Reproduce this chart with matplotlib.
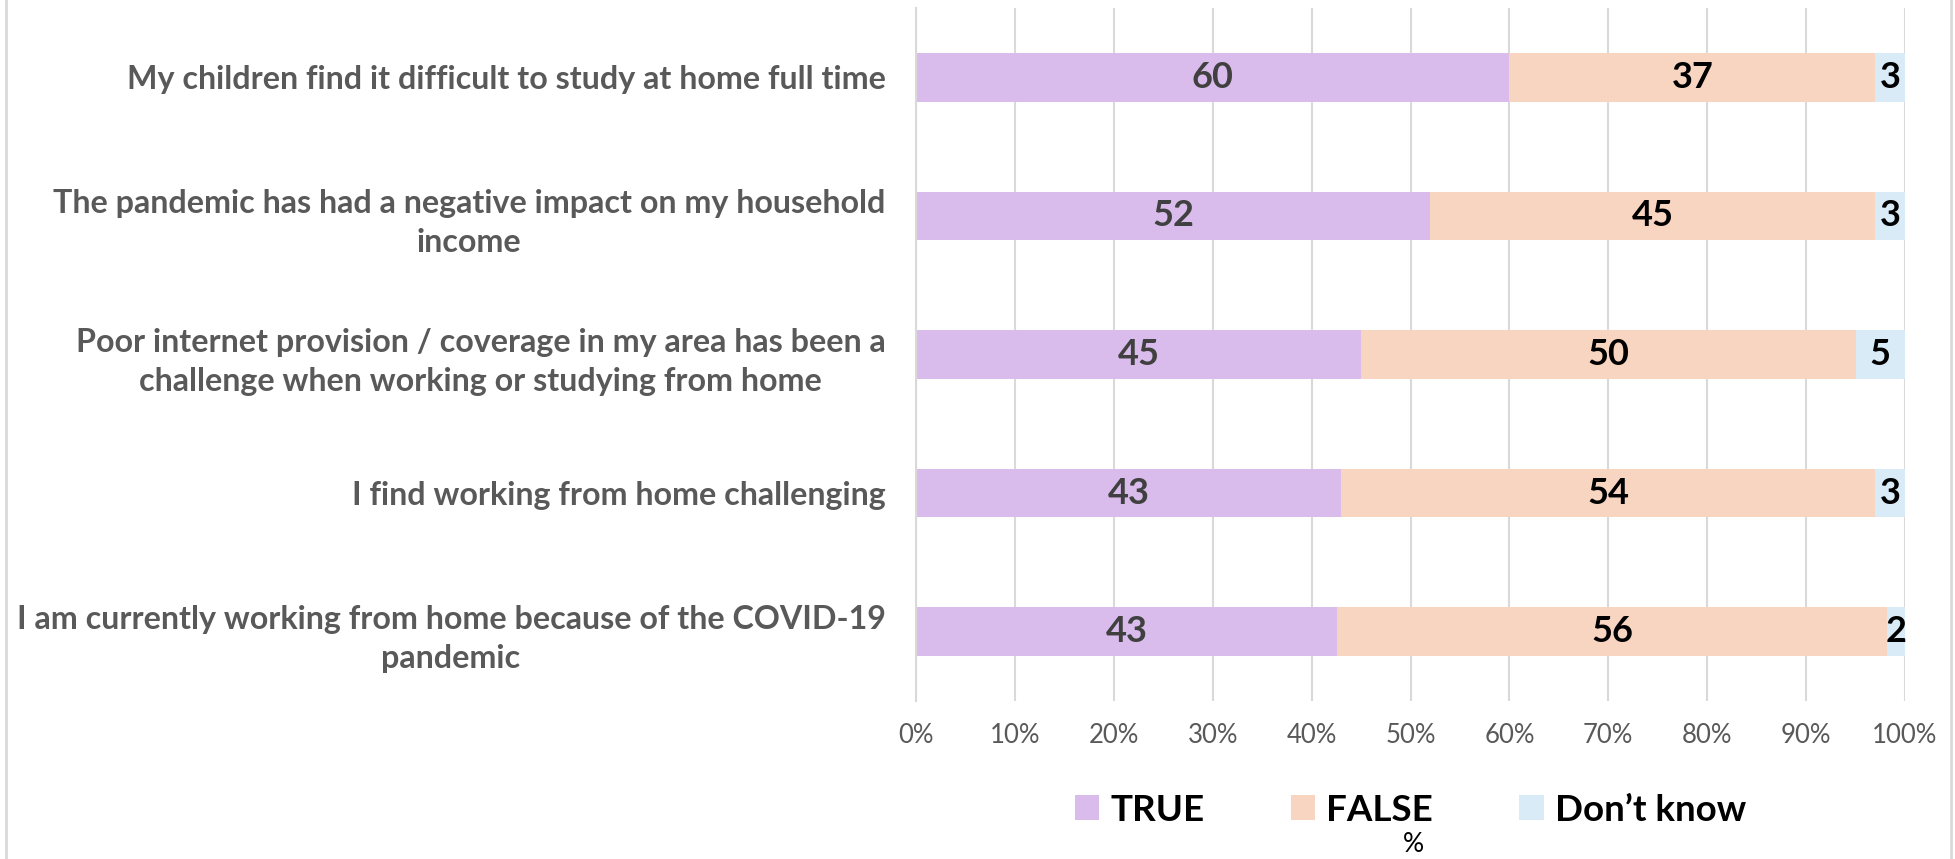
import matplotlib.pyplot as plt
from matplotlib.lines import Line2D
from matplotlib.ticker import FuncFormatter

categories = [
    "My children find it difficult to study at home full time",
    "The pandemic has had a negative impact on my household\nincome",
    "Poor internet provision / coverage in my area has been a\nchallenge when working or studying from home",
    "I find working from home challenging",
    "I am currently working from home because of the COVID-19\npandemic",
]
true_vals = [60, 52, 45, 43, 42.6]
false_vals = [37, 45, 50, 54, 55.6]
dk_vals = [3, 3, 5, 3, 1.8]
series_names = ["TRUE", "FALSE", "Don\u2019t know"]
colors = ["#D9BCEC", "#F7D5C1", "#DAEBF8"]
label_colors = ["#404040", "black", "black"]
xticks = [0, 10, 20, 30, 40, 50, 60, 70, 80, 90, 100]

plt.rcParams["font.family"] = ["Lato", "DejaVu Sans"]

fig = plt.figure(figsize=(19.55, 8.59), dpi=100)
ax = fig.add_axes([916 / 1955, 1 - 701 / 859, (1905 - 916) / 1955, (701 - 8) / 859])

y = list(range(len(categories)))
left = [0.0] * len(categories)
for vals, name, col, lcol in zip([true_vals, false_vals, dk_vals], series_names, colors, label_colors):
    bars = ax.barh(y, vals, left=left, height=0.35, color=col, label=name, zorder=2)
    for rect, v in zip(bars, vals):
        ax.text(rect.get_x() + rect.get_width() / 2, rect.get_y() + rect.get_height() / 2,
                f"{v:.0f}", ha="center", va="center", fontsize=26, fontweight="bold",
                color=lcol, zorder=3)
    left = [a + b for a, b in zip(left, vals)]

ax.set_ylim(len(categories) - 0.5, -0.5)
ax.set_xlim(0, 100)
ax.set_yticks(y)
ax.set_yticklabels(categories, fontsize=23.2, fontweight="bold", color="#595959",
                   multialignment="center", linespacing=1.4)
ax.set_xticks(xticks)
ax.xaxis.set_major_formatter(FuncFormatter(lambda v, p: f"{v:.0f}%"))
ax.tick_params(axis="x", length=0, pad=16, labelsize=18.5, labelcolor="#595959")
ax.tick_params(axis="y", length=0, pad=22)
ax.grid(axis="x", color="#D9D9D9", linewidth=1.5, zorder=0)
for s in ["top", "right", "bottom"]:
    ax.spines[s].set_visible(False)
ax.spines["left"].set_color("#D9D9D9")
ax.spines["left"].set_linewidth(1.5)

leg = ax.legend(loc="center", bbox_to_anchor=(0.5, (701 - 810) / 693), ncol=3, frameon=False,
                prop={"family": "Lato", "weight": "bold", "size": 26.5},
                handlelength=0.66, handleheight=0.66, handletextpad=0.3, columnspacing=2.35)
for t in leg.get_texts():
    t.set_color("black")

fig.text(1413 / 1955, 1 - 845 / 859, "%", ha="center", va="center", fontsize=19, color="black")

# thin grey frame on the left and right edges of the image
for xf in [6 / 1955, 1951 / 1955]:
    fig.add_artist(Line2D([xf, xf], [0, 1], transform=fig.transFigure, color="#D9D9D9", linewidth=2))

fig.savefig("out.png", dpi=100)
